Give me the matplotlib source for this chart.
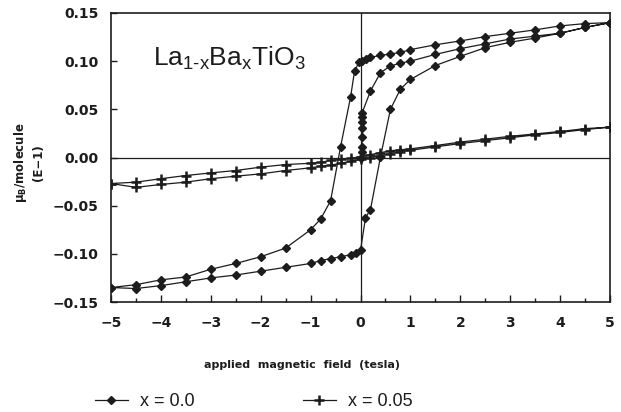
import matplotlib
matplotlib.use("Agg")
import numpy as np
import matplotlib.pyplot as plt
from matplotlib.ticker import MultipleLocator

plt.rcParams['font.family'] = ['Liberation Sans', 'DejaVu Sans']
plt.rcParams['mathtext.fontset'] = 'custom'
plt.rcParams['mathtext.rm'] = 'Liberation Sans'
plt.rcParams['mathtext.bf'] = 'DejaVu Sans:bold'

# x = 0.0 : virgin curve, field down 5 -> -5, field up -5 -> 5
x0_virgin_B = [0.0, 0.03, 0.03, 0.03, 0.03, 0.03, 0.03, 0.03, 0.2, 0.4, 0.6, 0.8, 1.0,
               1.5, 2.0, 2.5, 3.0, 3.5, 4.0, 4.5, 5.0]
x0_virgin_m = [0.0, 0.006, 0.011, 0.021, 0.031, 0.037, 0.042, 0.046, 0.069, 0.088, 0.095,
               0.098, 0.100, 0.107, 0.113, 0.118, 0.123, 0.126, 0.129, 0.135, 0.140]

x0_down_B = [5.0, 4.5, 4.0, 3.5, 3.0, 2.5, 2.0, 1.5, 1.0, 0.8, 0.6, 0.4, 0.2, 0.12, 0.03,
             -0.03, -0.12, -0.2, -0.4, -0.6, -0.8, -1.0, -1.5, -2.0, -2.5, -3.0, -3.5,
             -4.0, -4.5, -5.0]
x0_down_m = [0.140, 0.139, 0.1366, 0.1325, 0.129, 0.1255, 0.121, 0.117, 0.112, 0.109,
             0.1075, 0.106, 0.104, 0.102, 0.1005, 0.099, 0.0895, 0.0625, 0.011, -0.045,
             -0.064, -0.075, -0.094, -0.103, -0.110, -0.116, -0.124, -0.127, -0.132, -0.135]

x0_up_B = [-5.0, -4.5, -4.0, -3.5, -3.0, -2.5, -2.0, -1.5, -1.0, -0.8, -0.6, -0.4, -0.2,
           -0.1, 0.0, 0.1, 0.2, 0.4, 0.6, 0.8, 1.0, 1.5, 2.0, 2.5, 3.0, 3.5, 4.0, 4.5, 5.0]
x0_up_m = [-0.135, -0.136, -0.133, -0.129, -0.125, -0.122, -0.118, -0.114, -0.110, -0.107,
           -0.105, -0.103, -0.101, -0.099, -0.0965, -0.0626, -0.054, 0.0005, 0.050, 0.071,
           0.081, 0.0955, 0.105, 0.114, 0.1196, 0.124, 0.129, 0.135, 0.140]

# x = 0.05 : nearly linear, field down then field up
x05_down_B = [5.0, 4.5, 4.0, 3.5, 3.0, 2.5, 2.0, 1.5, 1.0, 0.8, 0.6, 0.4, 0.2, 0.0, -0.2,
              -0.4, -0.6, -0.8, -1.0, -1.5, -2.0, -2.5, -3.0, -3.5, -4.0, -4.5, -5.0]
x05_down_m = [0.0315, 0.030, 0.027, 0.0245, 0.022, 0.019, 0.016, 0.0124, 0.009, 0.008,
              0.007, 0.005, 0.003, 0.001, -0.001, -0.002, -0.003, -0.005, -0.006, -0.0073,
              -0.010, -0.0135, -0.016, -0.0187, -0.022, -0.0256, -0.027]

x05_up_B = [-5.0, -4.5, -4.0, -3.5, -3.0, -2.5, -2.0, -1.5, -1.0, -0.8, -0.6, -0.4, -0.2,
            0.0, 0.2, 0.4, 0.6, 0.8, 1.0, 1.5, 2.0, 2.5, 3.0, 3.5, 4.0, 4.5, 5.0]
x05_up_m = [-0.027, -0.031, -0.028, -0.0256, -0.022, -0.0194, -0.017, -0.0135, -0.0107,
            -0.009, -0.008, -0.006, -0.004, -0.002, 0.000, 0.002, 0.004, 0.006, 0.0075,
            0.011, 0.0145, 0.0175, 0.0205, 0.0235, 0.026, 0.029, 0.0315]

x_ticks = [-5, -4, -3, -2, -1, 0, 1, 2, 3, 4, 5]
y_ticks = [-0.15, -0.10, -0.05, 0.00, 0.05, 0.10, 0.15]

B0 = x0_virgin_B + x0_down_B + x0_up_B
m0 = x0_virgin_m + x0_down_m + x0_up_m
B05 = x05_down_B + x05_up_B
m05 = x05_down_m + x05_up_m

fig = plt.figure(figsize=(6.21, 4.12), dpi=100)
ax = fig.add_axes([111/621, 1 - 302/412, (610 - 111)/621, (302 - 13)/412])

ink = '#1c1c1c'
ax.axhline(0, color=ink, lw=0.9, zorder=1)
ax.axvline(0, color=ink, lw=0.9, zorder=1)

l1, = ax.plot(B0, m0, color=ink, lw=0.9, marker='D', ms=4, mfc=ink, mec=ink, zorder=3)
l2, = ax.plot(B05, m05, color=ink, lw=0.9, marker='+', ms=6.5, mew=1.8, mec=ink, zorder=3)

ax.set_xlim(-5, 5)
ax.set_ylim(-0.15, 0.15)
ax.set_xticks(x_ticks)
ax.set_yticks(y_ticks)
ax.xaxis.set_minor_locator(MultipleLocator(0.5))
ax.set_xticklabels([f"{v:d}".replace('-', '\u2212') for v in x_ticks])
ax.set_yticklabels([f"{v:.2f}".replace('-', '\u2212') for v in y_ticks])
ax.tick_params(axis='both', which='both', direction='in', top=False, right=False,
               width=1.0, color=ink)
ax.tick_params(axis='x', which='major', length=5, pad=10)
ax.tick_params(axis='x', which='minor', length=3)
ax.tick_params(axis='y', which='major', length=4, pad=9)
for lab in ax.get_xticklabels() + ax.get_yticklabels():
    lab.set_family('DejaVu Sans')
    lab.set_fontweight('bold')
    lab.set_fontsize(10)
    lab.set_color(ink)
for sp in ax.spines.values():
    sp.set_linewidth(1.2)
    sp.set_color(ink)

ax.text(0.085, 0.82,
        "La$_{\\mathregular{1\u2010x}}$Ba$_{\\mathregular{x}}$TiO$_{\\mathregular{3}}$",
        transform=ax.transAxes, fontsize=19, color=ink, va='baseline')

fig.text(29/621, 1 - 163/412, "\u03bc$_\\mathbf{B}$/molecule\n(E\u22121)", rotation=90,
         ha='center', va='center', fontsize=8.5, fontweight='bold', color=ink,
         family='DejaVu Sans', multialignment='center', linespacing=1.3)
fig.text(302/621, 1 - 365/412, "applied  magnetic  field  (tesla)", ha='center',
         va='center', fontsize=8, fontweight='bold', color=ink, family='DejaVu Sans')

fig.legend([l1, l2], ["x = 0.0", "x = 0.05"], loc='center left',
           bbox_to_anchor=(95/621, 1 - 402/412), ncol=2, frameon=False,
           borderaxespad=0, borderpad=0, handlelength=1.8, handletextpad=0.7,
           columnspacing=6.0, fontsize=13, labelcolor=ink)

fig.savefig("out.png", dpi=100)
